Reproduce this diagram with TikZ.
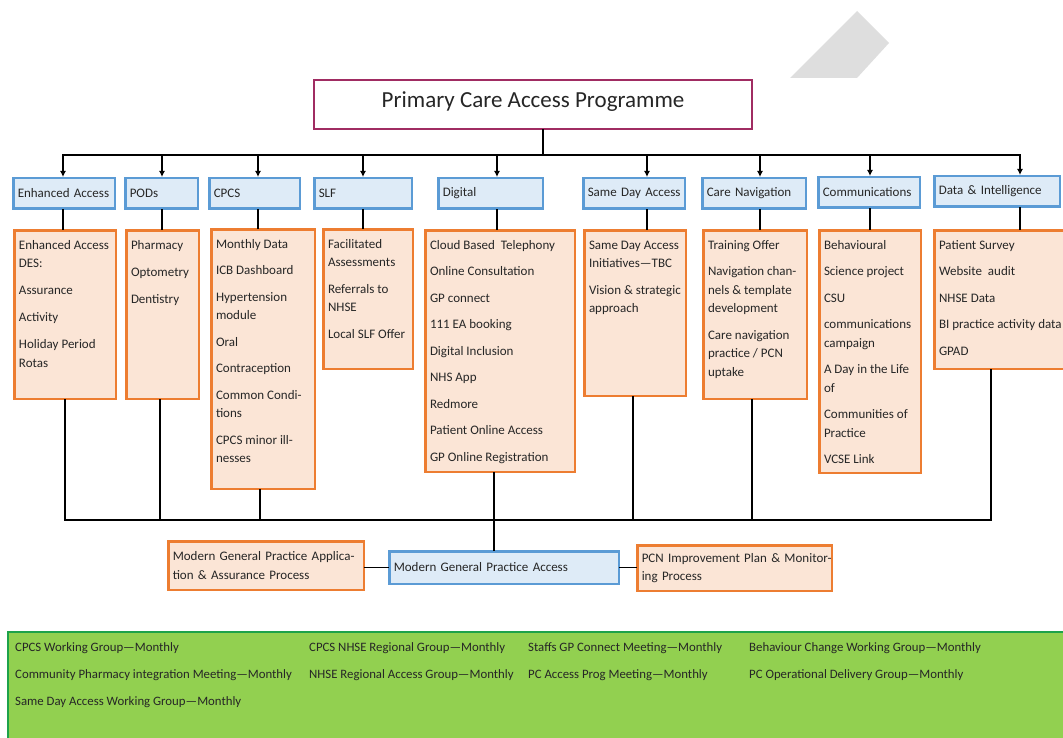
\documentclass[tikz,border=0pt]{standalone}
\usepackage{fontspec}
\setmainfont{Carlito}
\usetikzlibrary{arrows.meta}

\definecolor{titlered}{HTML}{A02C62}
\definecolor{boxblue}{HTML}{5B9BD5}
\definecolor{fillblue}{HTML}{DEEBF7}
\definecolor{boxorange}{HTML}{ED7D31}
\definecolor{fillorange}{HTML}{FBE5D6}
\definecolor{bandgreen}{HTML}{92D050}
\definecolor{banddark}{HTML}{1DA24A}
\definecolor{inkgrey}{HTML}{262626}

\newcommand{\bodyfont}{\fontsize{13}{18.5}\selectfont}
\newcommand{\tasklist}[3]{\parbox[t][#2][t]{#1}{\begin{tabular}[t]{@{}l@{}}#3\end{tabular}}}

\begin{document}
\begin{tikzpicture}[x=1pt,y=-1pt,text=inkgrey]

      \useasboundingbox (0,0) rectangle (1063,738);

      \fill[black!13] (857,11) -- (889,43) -- (857,78) -- (790,78) -- cycle;

      \node[draw=titlered, line width=2pt, minimum width=438pt, minimum height=49pt, text depth=10pt,
            font=\fontsize{23}{28}\selectfont] (top) at (533,104.5) {Primary Care Access Programme};

      \begin{scope}[every node/.style={draw=boxblue, fill=fillblue, line width=2.5pt, minimum height=30.5pt,
                                       inner xsep=4.5pt, align=left, font=\bodyfont}]
        \node[text width=92.5pt] (c1) at (64,193.5)  {\mbox{Enhanced Access}};
        \node[text width=63.5pt] (c2) at (161.5,193.5) {PODs};
        \node[text width=81.5pt] (c3) at (254.5,193.5) {CPCS};
        \node[text width=88.5pt] (c4) at (363,193.5) {SLF};
        \node[text width=95.5pt] (c5) at (490.5,193.5) {Digital};
        \node[text width=92.5pt] (c6) at (634,193.5) {\mbox{Same Day Access}};
        \node[text width=94.5pt] (c7) at (754,193.5) {\mbox{Care Navigation}};
        \node[text width=92.5pt] (c8) at (869,192.5) {\mbox{Communications}};
        \node[text width=116.5pt] (c9) at (997,191.5) {\mbox{Data \& Intelligence}};
        \node[text width=220.5pt, minimum height=32.5pt] (mgp) at (504,567.5) {Modern General Practice Access};
      \end{scope}

      \begin{scope}[every node/.style={draw=boxorange, fill=fillorange, line width=2.5pt, anchor=north west,
                                       inner xsep=4.5pt, inner ysep=6pt, font=\bodyfont}]
        \node (d1) at (13.25,229.25) {\tasklist{92.5pt}{156.5pt}{Enhanced Access\\DES:\\[8.5pt]Assurance\\[8.5pt]Activity\\[8.5pt]Holiday Period\\Rotas}};
        \node (d2) at (125.25,229.25) {\tasklist{63.5pt}{156.5pt}{Pharmacy\\[8.5pt]Optometry\\[8.5pt]Dentistry}};
        \node (d3) at (210.25,228.25) {\tasklist{94.5pt}{247.5pt}{Monthly Data\\[8pt]ICB Dashboard\\[8pt]Hypertension\\module\\[8pt]Oral\\[8pt]Contraception\\[8pt]Common Condi-\\tions\\[8pt]CPCS minor ill-\\nesses}};
        \node (d4) at (322.25,228.25) {\tasklist{80.5pt}{127.5pt}{Facilitated\\Assessments\\[8pt]Referrals to\\NHSE\\[8pt]Local SLF Offer}};
        \node (d5) at (424.25,229.25) {\tasklist{140.5pt}{229.5pt}{Cloud Based\ \ Telephony\\[8pt]Online Consultation\\[8pt]GP connect\\[8pt]111 EA booking\\[8pt]Digital Inclusion\\[8pt]NHS App\\[8pt]Redmore\\[8pt]Patient Online Access\\[8pt]GP Online Registration}};
        \node (d6) at (583.25,229.25) {\tasklist{92.5pt}{153.5pt}{Same Day Access\\Initiatives—TBC\\[8pt]Vision \& strategic\\approach}};
        \node (d7) at (702.25,229.25) {\tasklist{94.5pt}{156.5pt}{Training Offer\\[8pt]Navigation chan-\\nels \& template\\development\\[8pt]Care navigation\\practice / PCN\\uptake}};
        \node (d8) at (818.25,229.25) {\tasklist{92.5pt}{230.5pt}{Behavioural\\[8pt]Science project\\[8pt]CSU\\[8pt]communications\\campaign\\[8pt]A Day in the Life\\of\\[8pt]Communities of\\Practice\\[8pt]VCSE Link}};
        \node (d9) at (933.25,229.25) {\tasklist{120.5pt}{126.5pt}{Patient Survey\\[8pt]Website\ \ audit\\[8pt]NHSE Data\\[8pt]BI practice activity data\\[8pt]GPAD}};
      \end{scope}

      \begin{scope}[every node/.style={draw=boxorange, fill=fillorange, line width=2.5pt, inner xsep=4.5pt,
                                       align=left, font=\bodyfont}]
        \node[text width=186.5pt, minimum height=48.5pt] (apply) at (266,565.5) {\mbox{Modern General Practice Applica-}\\tion \& Assurance Process};
        \node[text width=185.5pt, minimum height=45.5pt] (pcn) at (734.5,568) {\mbox{PCN Improvement Plan \& Monitor-}\\ing Process};
      \end{scope}

      \coordinate (t)  at (543,155);
      \coordinate (a1) at (63,155);
      \coordinate (a2) at (162,155);
      \coordinate (a3) at (258,155);
      \coordinate (a4) at (363,155);
      \coordinate (a5) at (497,155);
      \coordinate (a6) at (647,155);
      \coordinate (a7) at (760,155);
      \coordinate (a8) at (870,155);
      \coordinate (a9) at (1020,155);

      \coordinate (b1) at (65,520);
      \coordinate (b2) at (160,520);
      \coordinate (b3) at (260,520);
      \coordinate (b5) at (494,520);
      \coordinate (b6) at (633,520);
      \coordinate (b7) at (752,520);
      \coordinate (b9) at (991,520);

      \begin{scope}[every edge/.style={draw, line width=1.8pt, line cap=rect}]
        \path (top.south -| t) edge (t);
        \path (a1) edge (a9);
        \path (a1) edge[-{Latex[length=6pt,width=6pt]}] (a1 |- c1.north);
        \path (a2) edge[-{Latex[length=6pt,width=6pt]}] (a2 |- c2.north);
        \path (a3) edge[-{Latex[length=6pt,width=6pt]}] (a3 |- c3.north);
        \path (a4) edge[-{Latex[length=6pt,width=6pt]}] (a4 |- c4.north);
        \path (a5) edge[-{Latex[length=6pt,width=6pt]}] (a5 |- c5.north);
        \path (a6) edge[-{Latex[length=6pt,width=6pt]}] (a6 |- c6.north);
        \path (a7) edge[-{Latex[length=6pt,width=6pt]}] (a7 |- c7.north);
        \path (a8) edge[-{Latex[length=6pt,width=6pt]}] (a8 |- c8.north);
        \path (a9) edge[-{Latex[length=6pt,width=6pt]}] (a9 |- c9.north);
        \path (a1 |- c1.south) edge (a1 |- d1.north);
        \path (a2 |- c2.south) edge (a2 |- d2.north);
        \path (a3 |- c3.south) edge (a3 |- d3.north);
        \path (a4 |- c4.south) edge (a4 |- d4.north);
        \path (a5 |- c5.south) edge (a5 |- d5.north);
        \path (a6 |- c6.south) edge (a6 |- d6.north);
        \path (a7 |- c7.south) edge (a7 |- d7.north);
        \path (a8 |- c8.south) edge (a8 |- d8.north);
        \path (a9 |- c9.south) edge (a9 |- d9.north);
        \path (b1 |- d1.south) edge (b1);
        \path (b2 |- d2.south) edge (b2);
        \path (b3 |- d3.south) edge (b3);
        \path (b5 |- d5.south) edge (b5);
        \path (b6 |- d6.south) edge (b6);
        \path (b7 |- d7.south) edge (b7);
        \path (b9 |- d9.south) edge (b9);
        \path (b1) edge (b9);
        \path (b5) edge (b5 |- mgp.north);
        \path (apply.east |- mgp.west) edge (mgp.west);
        \path (mgp.east) edge (mgp.east -| pcn.west);
      \end{scope}

      \draw[banddark, line width=2pt, fill=bandgreen] (8,632) rectangle (1075,750);

      \begin{scope}[every node/.style={anchor=west, inner sep=0pt, font=\fontsize{12.8}{14}\selectfont}]
        \node (m1) at (15,648)  {CPCS Working Group—Monthly};
        \node (m2) at (309,648) {CPCS NHSE Regional Group—Monthly};
        \node (m3) at (528,648) {Staffs GP Connect Meeting—Monthly};
        \node (m4) at (749,648) {Behaviour Change Working Group—Monthly};
        \node (m5) at (15,675)  {Community Pharmacy integration Meeting—Monthly};
        \node (m6) at (309,675) {NHSE Regional Access Group—Monthly};
        \node (m7) at (528,675) {PC Access Prog Meeting—Monthly};
        \node (m8) at (749,675) {PC Operational Delivery Group—Monthly};
        \node (m9) at (15,702)  {Same Day Access Working Group—Monthly};
      \end{scope}

    \end{tikzpicture}
\end{document}
